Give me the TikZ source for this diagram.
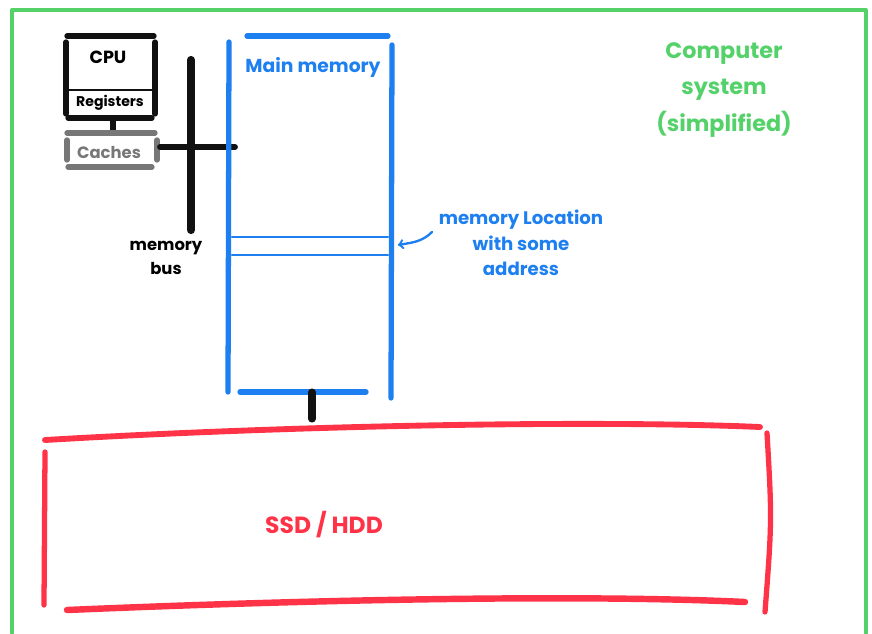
\documentclass[tikz,border=0pt]{standalone}
\usepackage{fontspec}
\setmainfont{Poppins}
\setsansfont{Poppins}
\begin{document}
\begin{tikzpicture}[x=0.03cm, y=-0.03cm, font=\sffamily\bfseries, line cap=round, line join=round]
  \definecolor{frame}{HTML}{55D16A}
  \definecolor{mem}{HTML}{1E7FF0}
  \definecolor{disk}{HTML}{FF3347}
  \definecolor{cache}{HTML}{777777}
  \definecolor{ink}{HTML}{111111}
  \tikzset{
    pen/.style={line width=4.5pt},
    thin pen/.style={line width=2pt},
    hand/.style={inner sep=1pt, align=center}
  }
  \path[use as bounding box] (0,0) rectangle (872,633);
  % Outer frame of the whole system.
  \draw[frame, line width=3.5pt] (12,633) -- (12,10) -- (866,10) -- (866,633);
  \node[hand, text=frame, font=\sffamily\bfseries\fontsize{19}{31}\selectfont] (title) at (724,90)
    {Computer\\system\\(simplified)};
  % CPU with its registers, caches below it.
  \draw[ink, pen] (67,36) -- (154,36);
  \draw[ink, pen] (66,42) -- (66,114);
  \draw[ink, pen] (155,42) -- (155,114);
  \draw[ink, thin pen] (67,90) -- (154,90);
  \draw[ink, pen] (68,118) -- (152,118);
  \draw[ink, pen] (113,118) -- (113,130);
  \node[hand, font=\sffamily\bfseries\fontsize{15}{17}\selectfont] (cpu) at (108,57) {CPU};
  \node[hand, font=\sffamily\bfseries\fontsize{12}{14}\selectfont] (regs) at (110,103) {Registers};
  \draw[cache, pen] (67,133) -- (155,133);
  \draw[cache, pen] (67,140) -- (67,160);
  \draw[cache, pen] (157,140) -- (157,160);
  \draw[cache, pen] (68,167) -- (152,167);
  \node[hand, text=cache, font=\sffamily\bfseries\fontsize{14}{16}\selectfont] (caches) at (109,152) {Caches};
  % Memory bus between caches and main memory.
  \draw[ink, line width=7pt] (191,60) -- (191,230);
  \draw[ink, line width=5pt] (160,147) -- (235,147);
  \node[hand, font=\sffamily\bfseries\fontsize{14}{21}\selectfont] (bus) at (166,258) {memory\\bus};
  % Main memory with one location marked.
  \draw[mem, pen] (247,36) -- (388,36);
  \draw[mem, pen] (229,42) -- (228,392);
  \draw[mem, pen] (392,45) -- (391,398);
  \draw[mem, pen] (240,392) -- (366,392);
  \draw[mem, line width=1.8pt] (232,237) -- (388,237);
  \draw[mem, line width=1.8pt] (232,255) -- (388,255);
  \coordinate (slot) at (398,245);
  \coordinate (tail) at (432,232);
  \node[hand, text=mem, font=\sffamily\bfseries\fontsize{16}{18}\selectfont] (mainmem) at (313,67) {Main memory};
  \node[hand, text=mem, font=\sffamily\bfseries\fontsize{15.5}{22}\selectfont] (loc) at (521,243)
    {memory Location\\with some\\address};
  \draw[mem, line width=2pt, ->] (tail) to[out=225, in=10] (slot);
  % Storage below, linked to main memory.
  \draw[ink, line width=6pt] (312,392) -- (312,419);
  \draw[disk, line width=5pt] (45,440) .. controls (300,425) and (600,420) .. (760,427);
  \draw[disk, pen] (45,452) -- (44,605);
  \draw[disk, pen] (767,433) .. controls (772,520) .. (765,612);
  \draw[disk, line width=5.5pt] (67,610) .. controls (350,598) and (600,595) .. (745,602);
  \node[hand, text=disk, font=\sffamily\bfseries\fontsize{20}{22}\selectfont] (ssd) at (324,525) {SSD / HDD};
\end{tikzpicture}
\end{document}
